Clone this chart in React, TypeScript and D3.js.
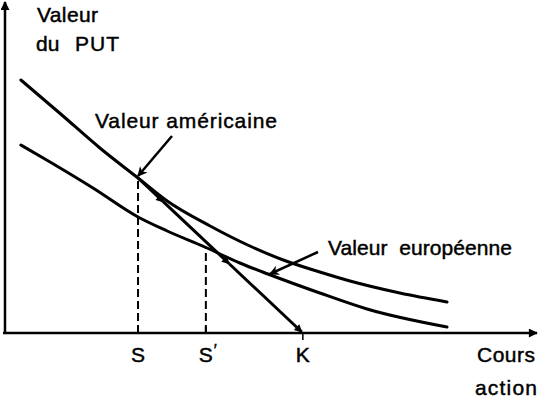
import React from "react";
import * as d3 from "d3";

// Data (stock price -> put value)
const americanX = [3.0, 10.4, 17.9, 25.1, 30.6, 38.7, 46.2, 52.5, 59.4, 65.1, 74.5, 83.4];
const americanY = [50.6, 43.9, 37.0, 31.0, 26.4, 21.4, 17.4, 14.6, 12.2, 10.4, 8.0, 6.2];
const europeanX = [3.0, 8.5, 16.6, 25.1, 30.6, 37.7, 44.3, 49.6, 59.4, 68.3, 83.4];
const europeanY = [37.6, 34.2, 29.0, 23.2, 20.4, 17.2, 14.0, 11.8, 8.0, 4.8, 1.2];
const strikeK = 56.2;
const sValue = 25.1;
const sPrimeValue = 37.9;
const intrinsicStops = [25.1, 29.9, 42.3, 56.0];
const tickLabels = ["S", "S", "K"];
const tickValues = [sValue, sPrimeValue, strikeK];

const W = 539;
const H = 402;

export default function App() {
  const x = d3.scaleLinear().domain([0, 100]).range([5, 535]);
  const y = d3.scaleLinear().domain([0, 60]).range([333, 33]);
  const line = d3
    .line<[number, number]>()
    .x((d) => x(d[0]))
    .y((d) => y(d[1]))
    .curve(d3.curveMonotoneX);
  const straight = d3
    .line<[number, number]>()
    .x((d) => x(d[0]))
    .y((d) => y(d[1]));

  const amer: [number, number][] = americanX.map((v, i) => [v, americanY[i]]);
  const euro: [number, number][] = europeanX.map((v, i) => [v, europeanY[i]]);
  const sY = americanY[3];
  const sPrimeY = europeanY[5];
  const intrinsic = (s: number) => Math.max(strikeK - s, 0) * (sY / (strikeK - sValue));

  const segs: [number, number][][] = [];
  for (let i = 0; i < intrinsicStops.length - 1; i++) {
    segs.push([
      [intrinsicStops[i], intrinsic(intrinsicStops[i])],
      [intrinsicStops[i + 1], intrinsic(intrinsicStops[i + 1])],
    ]);
  }

  const font = "'Liberation Sans', Arial, Helvetica, sans-serif";

  return (
    <svg width={W} height={H} style={{ position: "absolute", left: 0, top: 0, background: "#fff" }}>
      <defs>
        <marker id="ah" viewBox="0 0 10 10" refX="9" refY="5" markerWidth="11" markerHeight="8" markerUnits="userSpaceOnUse" orient="auto">
          <path d="M0,0 L10,5 L0,10 z" fill="#000" />
        </marker>
        <marker id="ahAxis" viewBox="0 0 10 10" refX="9" refY="5" markerWidth="14" markerHeight="9" markerUnits="userSpaceOnUse" orient="auto">
          <path d="M0,0 L10,5 L0,10 z" fill="#000" />
        </marker>
        <marker id="ahLab" viewBox="0 0 10 10" refX="9" refY="5" markerWidth="18" markerHeight="10" markerUnits="userSpaceOnUse" orient="auto">
          <path d="M0,0 L10,5 L0,10 L3,5 z" fill="#000" />
        </marker>
      </defs>

      {/* axes */}
      <line x1={x(0)} y1={y(0)} x2={x(0)} y2={2} stroke="#000" strokeWidth={2.5} markerEnd="url(#ahAxis)" />
      <line x1={x(0) - 2} y1={y(0)} x2={537} y2={y(0)} stroke="#000" strokeWidth={2.5} markerEnd="url(#ahAxis)" />

      {/* ticks */}
      {tickValues.slice(0, 2).map((v, i) => (
        <line key={"t" + i} x1={x(v)} x2={x(v)} y1={y(0)} y2={y(0) - 6} stroke="#000" strokeWidth={2} />
      ))}
      <line x1={x(strikeK)} x2={x(strikeK)} y1={y(0)} y2={y(0) + 7} stroke="#000" strokeWidth={1.5} />

      {/* dashed verticals */}
      <line x1={x(sValue)} x2={x(sValue)} y1={y(0)} y2={y(sY)} stroke="#000" strokeWidth={2} strokeDasharray="8,4" />
      <line x1={x(sPrimeValue)} x2={x(sPrimeValue)} y1={y(0)} y2={y(sPrimeY)} stroke="#000" strokeWidth={2} strokeDasharray="8,4" />

      {/* curves */}
      <path d={line(amer) || ""} fill="none" stroke="#000" strokeWidth={3} strokeLinecap="round" />
      <path d={line(euro) || ""} fill="none" stroke="#000" strokeWidth={3} strokeLinecap="round" />

      {/* intrinsic value line with arrowheads */}
      {segs.map((s, i) => (
        <path key={"s" + i} d={straight(s) || ""} fill="none" stroke="#000" strokeWidth={3} markerEnd="url(#ah)" />
      ))}

      {/* label arrows */}
      <line x1={172} y1={136} x2={x(sValue)} y2={y(sY) - 2} stroke="#000" strokeWidth={2.5} markerEnd="url(#ahLab)" />
      <line x1={318} y1={252} x2={x(europeanX[7]) + 2} y2={y(europeanY[7])} stroke="#000" strokeWidth={2.5} markerEnd="url(#ahLab)" />

      {/* texts */}
      <g fontFamily={font} fontSize={21} fill="#000" stroke="#000" strokeWidth={0.45}>
        <text x={37} y={22} textLength={61} lengthAdjust="spacing">Valeur</text>
        <text x={36} y={51}>du</text>
        <text x={75} y={51} textLength={44} lengthAdjust="spacing">PUT</text>
        <text x={95} y={128} textLength={182} lengthAdjust="spacing">Valeur américaine</text>
        <text x={328} y={255} textLength={184} lengthAdjust="spacing" xmlSpace="preserve">Valeur  européenne</text>
        {tickValues.map((v, i) => (
          <text key={"l" + i} x={x(v)} y={362} textAnchor="middle">
            {tickLabels[i]}
          </text>
        ))}
        <text x={x(sPrimeValue) + 8} y={356} fontSize={16}>′</text>
        <text x={477} y={362} textLength={58} lengthAdjust="spacing">Cours</text>
        <text x={475} y={395} textLength={62} lengthAdjust="spacing">action</text>
      </g>
    </svg>
  );
}
